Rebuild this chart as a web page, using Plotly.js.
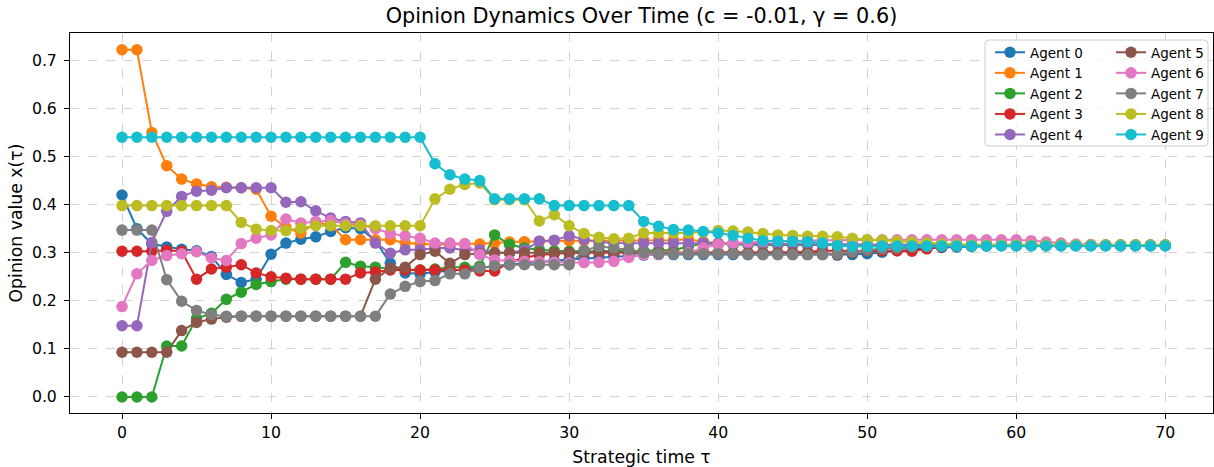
<!DOCTYPE html>
<html>
<head>
<meta charset="utf-8">
<script src="https://cdn.plot.ly/plotly-3.0.1.min.js"></script>
<style>html,body{margin:0;padding:0;background:#fff;}#chart{width:1214px;height:467px;}</style>
</head>
<body>
<div id="chart"></div>
<script>
const timeSteps = [0,1,2,3,4,5,6,7,8,9,10,11,12,13,14,15,16,17,18,19,20,21,22,23,24,25,26,27,28,29,30,31,32,33,34,35,36,37,38,39,40,41,42,43,44,45,46,47,48,49,50,51,52,53,54,55,56,57,58,59,60,61,62,63,64,65,66,67,68,69,70];

const agentNames = ["Agent 0","Agent 1","Agent 2","Agent 3","Agent 4","Agent 5","Agent 6","Agent 7","Agent 8","Agent 9"];
const agentColors = ["#1f77b4","#ff7f0e","#2ca02c","#d62728","#9467bd","#8c564b","#e377c2","#7f7f7f","#bcbd22","#17becf"];

const agent0 = [0.420,0.350,0.318,0.312,0.307,0.304,0.292,0.255,0.238,0.245,
 0.297,0.320,0.328,0.333,0.344,0.352,0.350,0.325,0.278,0.258,
 0.256,0.260,0.262,0.265,0.268,0.272,0.275,0.278,0.280,0.283,
 0.286,0.288,0.290,0.292,0.294,0.295,0.296,0.296,0.296,0.296,
 0.296,0.296,0.296,0.296,0.296,0.296,0.296,0.296,0.295,0.296,
 0.298,0.301,0.304,0.307,0.309,0.311,0.312,0.313,0.314,0.315,
 0.315,0.315,0.315,0.315,0.315,0.315,0.315,0.315,0.315,0.315,
 0.315];
const agent1 = [0.722,0.722,0.550,0.481,0.453,0.443,0.437,0.436,0.435,0.432,
 0.376,0.352,0.341,0.362,0.358,0.327,0.327,0.327,0.327,0.320,
 0.318,0.317,0.317,0.318,0.318,0.320,0.322,0.323,0.324,0.325,
 0.325,0.325,0.325,0.325,0.325,0.326,0.326,0.326,0.328,0.323,
 0.320,0.319,0.318,0.318,0.317,0.317,0.317,0.316,0.316,0.316,
 0.316,0.316,0.316,0.316,0.316,0.316,0.316,0.316,0.316,0.316,
 0.316,0.316,0.316,0.316,0.316,0.316,0.316,0.316,0.316,0.316,
 0.316];
const agent2 = [0.000,0.000,0.000,0.106,0.106,0.163,0.174,0.203,0.218,0.234,
 0.240,0.245,0.245,0.245,0.245,0.280,0.272,0.270,0.266,0.265,
 0.264,0.266,0.270,0.270,0.272,0.337,0.317,0.310,0.306,0.304,
 0.303,0.303,0.303,0.303,0.304,0.304,0.305,0.305,0.313,0.319,
 0.318,0.317,0.317,0.316,0.316,0.316,0.316,0.316,0.316,0.316,
 0.316,0.316,0.316,0.316,0.316,0.316,0.316,0.316,0.316,0.316,
 0.316,0.316,0.316,0.316,0.316,0.316,0.316,0.316,0.316,0.316,
 0.316];
const agent3 = [0.303,0.303,0.303,0.305,0.303,0.245,0.266,0.270,0.275,0.258,
 0.250,0.247,0.245,0.245,0.245,0.245,0.258,0.260,0.264,0.264,
 0.264,0.264,0.264,0.264,0.262,0.262,0.280,0.290,0.295,0.298,
 0.300,0.300,0.300,0.300,0.300,0.300,0.300,0.300,0.300,0.300,
 0.300,0.300,0.300,0.300,0.300,0.301,0.302,0.304,0.304,0.304,
 0.304,0.304,0.304,0.303,0.308,0.312,0.314,0.315,0.315,0.315,
 0.315,0.315,0.315,0.315,0.315,0.315,0.315,0.315,0.315,0.315,
 0.315];
const agent4 = [0.148,0.148,0.321,0.386,0.417,0.428,0.430,0.435,0.435,0.435,
 0.435,0.405,0.406,0.387,0.372,0.365,0.362,0.320,0.299,0.306,
 0.306,0.310,0.310,0.305,0.306,0.300,0.300,0.305,0.324,0.326,
 0.335,0.328,0.322,0.320,0.320,0.320,0.320,0.320,0.320,0.320,
 0.319,0.319,0.318,0.318,0.318,0.317,0.317,0.317,0.317,0.317,
 0.316,0.316,0.316,0.316,0.316,0.316,0.316,0.316,0.316,0.316,
 0.316,0.316,0.316,0.316,0.316,0.316,0.316,0.316,0.316,0.316,
 0.316];
const agent5 = [0.093,0.093,0.093,0.093,0.138,0.155,0.162,0.166,0.168,0.168,
 0.168,0.168,0.168,0.168,0.168,0.168,0.168,0.245,0.268,0.270,
 0.296,0.303,0.278,0.296,0.298,0.300,0.300,0.300,0.300,0.300,
 0.300,0.300,0.302,0.302,0.300,0.300,0.300,0.300,0.300,0.300,
 0.300,0.300,0.300,0.300,0.300,0.300,0.300,0.299,0.296,0.300,
 0.305,0.308,0.310,0.312,0.313,0.314,0.315,0.315,0.315,0.315,
 0.315,0.315,0.315,0.315,0.315,0.315,0.315,0.315,0.315,0.315,
 0.315];
const agent6 = [0.188,0.256,0.284,0.294,0.298,0.302,0.289,0.284,0.319,0.330,
 0.337,0.370,0.362,0.365,0.367,0.360,0.358,0.350,0.340,0.335,
 0.330,0.320,0.320,0.319,0.296,0.285,0.283,0.282,0.281,0.280,
 0.279,0.279,0.280,0.282,0.290,0.296,0.297,0.298,0.300,0.310,
 0.317,0.320,0.322,0.323,0.324,0.325,0.325,0.326,0.326,0.327,
 0.327,0.327,0.327,0.327,0.327,0.327,0.327,0.327,0.327,0.327,
 0.327,0.325,0.322,0.320,0.318,0.317,0.316,0.316,0.316,0.316,
 0.316];
const agent7 = [0.347,0.347,0.347,0.244,0.199,0.180,0.171,0.168,0.168,0.168,
 0.168,0.168,0.168,0.168,0.168,0.168,0.168,0.168,0.214,0.230,
 0.240,0.242,0.256,0.256,0.268,0.273,0.275,0.275,0.275,0.275,
 0.275,0.305,0.313,0.310,0.306,0.300,0.298,0.298,0.298,0.298,
 0.298,0.298,0.296,0.296,0.296,0.296,0.296,0.296,0.298,0.302,
 0.305,0.308,0.310,0.312,0.313,0.314,0.315,0.315,0.315,0.315,
 0.315,0.315,0.315,0.315,0.315,0.315,0.315,0.315,0.315,0.315,
 0.315];
const agent8 = [0.398,0.398,0.398,0.398,0.398,0.398,0.398,0.398,0.363,0.349,
 0.346,0.346,0.351,0.356,0.356,0.356,0.356,0.356,0.356,0.356,
 0.356,0.412,0.432,0.442,0.445,0.410,0.410,0.410,0.366,0.379,
 0.356,0.340,0.332,0.329,0.330,0.341,0.341,0.341,0.341,0.343,
 0.346,0.345,0.343,0.340,0.337,0.336,0.334,0.334,0.333,0.330,
 0.327,0.326,0.324,0.322,0.320,0.318,0.317,0.316,0.316,0.316,
 0.316,0.316,0.316,0.316,0.316,0.316,0.316,0.316,0.316,0.316,
 0.316];
const agent9 = [0.540,0.540,0.540,0.540,0.540,0.540,0.540,0.540,0.540,0.540,
 0.540,0.540,0.540,0.540,0.540,0.540,0.540,0.540,0.540,0.540,
 0.540,0.485,0.462,0.453,0.450,0.412,0.412,0.412,0.412,0.398,
 0.398,0.398,0.398,0.398,0.398,0.365,0.355,0.348,0.347,0.344,
 0.341,0.336,0.330,0.325,0.324,0.324,0.323,0.320,0.315,0.313,
 0.313,0.314,0.314,0.314,0.314,0.314,0.314,0.314,0.314,0.314,
 0.314,0.314,0.314,0.314,0.314,0.314,0.314,0.314,0.314,0.314,
 0.314];

const series = [agent0,agent1,agent2,agent3,agent4,agent5,agent6,agent7,agent8,agent9];
const yTicks = [0.0,0.1,0.2,0.3,0.4,0.5,0.6,0.7];
const xTicks = [0,10,20,30,40,50,60,70];

const FONT = "DejaVu Sans, Liberation Sans, sans-serif";

const traces = series.map((ys, i) => ({
  type: "scatter",
  mode: "lines+markers",
  x: timeSteps,
  y: ys,
  name: agentNames[i],
  legend: i < 5 ? "legend" : "legend2",
  line: {color: agentColors[i], width: 2},
  marker: {color: agentColors[i], size: 11.5},
  hoverinfo: "skip"
}));

// plot area in pixels
const L = 70, R = 1213, T = 33, B = 413, W = 1214, H = 467;
const pw = R - L, ph = B - T;
function px(x){ return (x - L) / pw; }
function py(y){ return (B - y) / ph; }

// legend frame (rounded)
const fx0 = px(985), fx1 = px(1208), fy0 = py(146), fy1 = py(40);
const rx = 4 / pw, ry = 4 / ph;
const framePath = `M ${fx0+rx},${fy1} L ${fx1-rx},${fy1} Q ${fx1},${fy1} ${fx1},${fy1-ry} L ${fx1},${fy0+ry} Q ${fx1},${fy0} ${fx1-rx},${fy0} L ${fx0+rx},${fy0} Q ${fx0},${fy0} ${fx0},${fy0+ry} L ${fx0},${fy1-ry} Q ${fx0},${fy1} ${fx0+rx},${fy1} Z`;

const axisCommon = {
  showline: true, linecolor: "#000", linewidth: 1, mirror: true,
  ticks: "outside", ticklen: 5, tickwidth: 1, tickcolor: "#000",
  showgrid: true, gridcolor: "#d3d3d3", griddash: "dash", gridwidth: 1,
  zeroline: false,
  tickfont: {family: FONT, size: 15.7, color: "#000"}
};

const layout = {
  width: W, height: H,
  margin: {l: L, r: W - R, t: T, b: H - B, pad: 0},
  paper_bgcolor: "#fff", plot_bgcolor: "#fff",
  font: {family: FONT, color: "#000"},
  title: {
    text: "Opinion Dynamics Over Time (c = -0.01, γ = 0.6)",
    font: {family: FONT, size: 20.8, color: "#000"},
    x: 0.5, xref: "paper", xanchor: "center",
    y: 1 - 16 / H, yref: "container", yanchor: "middle"
  },
  xaxis: Object.assign({}, axisCommon, {
    range: [-3.49, 73.2],
    tickvals: xTicks, ticktext: xTicks.map(String),
    title: {text: "Strategic time τ", font: {family: FONT, size: 17.3, color: "#000"}, standoff: 10}
  }),
  yaxis: Object.assign({}, axisCommon, {
    range: [-0.0333, 0.7568],
    tickvals: yTicks, ticktext: yTicks.map(v => v.toFixed(1)),
    ticklabelstandoff: 4,
    title: {text: "Opinion value x(τ)", font: {family: FONT, size: 17.3, color: "#000"}, standoff: 4}
  }),
  showlegend: true,
  legend: {
    x: px(990), y: py(37), xanchor: "left", yanchor: "top",
    bgcolor: "rgba(0,0,0,0)", borderwidth: 0,
    font: {family: FONT, size: 13.5, color: "#000"},
    tracegroupgap: 0, itemclick: false
  },
  legend2: {
    x: px(1111), y: py(37), xanchor: "left", yanchor: "top",
    bgcolor: "rgba(0,0,0,0)", borderwidth: 0,
    font: {family: FONT, size: 13.5, color: "#000"},
    tracegroupgap: 0, itemclick: false
  },
  shapes: [{
    type: "path", xref: "paper", yref: "paper", layer: "above",
    path: framePath,
    fillcolor: "rgba(255,255,255,0.8)",
    line: {color: "#cccccc", width: 1}
  }]
};

Plotly.newPlot("chart", traces, layout, {staticPlot: true, displayModeBar: false});
</script>
</body>
</html>
